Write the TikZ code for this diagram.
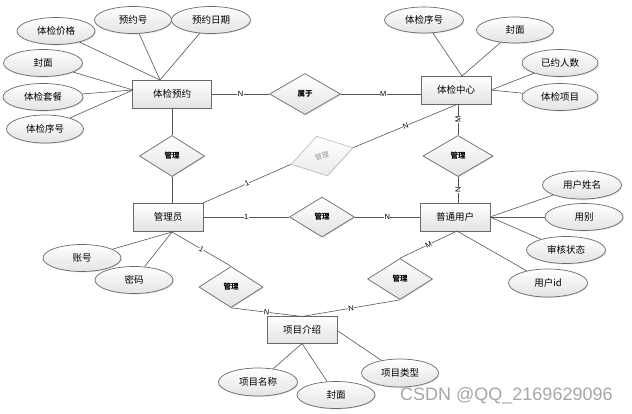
\documentclass[tikz,border=0pt]{standalone}
\usepackage{fontspec}
\setmainfont{Liberation Sans}
\newfontfamily\cjk{Noto Sans CJK SC}
\newfontfamily\wmfont{Liberation Sans}
\usetikzlibrary{shapes.geometric,shadows}
\definecolor{edgec}{HTML}{555555}
\definecolor{borderc}{HTML}{6A6A6A}
\tikzset{
  base/.style={draw=borderc, line width=0.7pt, top color=white, bottom color=gray!22,
    drop shadow={shadow xshift=0.9pt, shadow yshift=-0.9pt, opacity=0.25}, inner sep=0pt,
    font=\cjk\fontsize{9.5}{10}\selectfont},
  attr/.style={base, ellipse, minimum width=78pt, minimum height=27pt},
  ent/.style={base, rectangle, minimum width=70pt, minimum height=28pt},
  rel/.style={base, diamond, minimum width=65pt, minimum height=41pt, aspect=1.6,
    font=\cjk\bfseries\fontsize{7.5}{8}\selectfont},
  faded/.style={draw=gray!55, line width=0.6pt, top color=white, bottom color=gray!16,
    diamond, minimum width=64pt, minimum height=41pt, aspect=1.6, inner sep=0pt,
    drop shadow={shadow xshift=0.9pt, shadow yshift=-0.9pt, opacity=0.15},
    text=gray!80, font=\cjk\fontsize{7}{8}\selectfont},
  link/.style={draw=edgec, line width=0.6pt},
  card/.style={fill=white, inner sep=0.3pt, font=\fontsize{7.5}{8}\selectfont, text=black},
}
\begin{document}
\begin{tikzpicture}[x=1pt,y=-1pt]
\useasboundingbox (0,0) rectangle (632,413);
% entities
\node[ent, minimum width=79pt] (yy) at (172,94) {体检预约};
\node[ent] (zx) at (456,90) {体检中心};
\node[ent] (gly) at (168,217) {管理员};
\node[ent] (pt) at (455,217) {普通用户};
\node[ent, minimum height=27pt] (xmjs) at (302,330) {项目介绍};
% relations
\node[rel, minimum width=71pt] (sy) at (305,94) {属于};
\node[rel] (gl1) at (172,156) {管理};
\node[faded, rotate=15] (gl2) at (322,156) {管理};
\node[rel, minimum width=70pt] (gl3) at (458,156) {管理};
\node[rel, minimum height=40pt] (gl4) at (322,217) {管理};
\node[rel, minimum width=64pt] (gl5) at (231,287) {管理};
\node[rel] (gl6) at (400,279) {管理};
% attributes of 体检预约
\node[attr] (a1) at (56,31) {体检价格};
\node[attr, minimum width=77pt] (a2) at (133,20) {预约号};
\node[attr, minimum width=79pt] (a3) at (211,20) {预约日期};
\node[attr, minimum width=79pt] (a4) at (43,63) {封面};
\node[attr, minimum width=80pt] (a5) at (43,97) {体检套餐};
\node[attr, minimum width=77pt, minimum height=28pt] (a6) at (45,129) {体检序号};
% attributes of 体检中心
\node[attr, minimum width=79pt, minimum height=26pt] (b1) at (424,20) {体检序号};
\node[attr, minimum width=77pt, minimum height=26pt] (b2) at (515,30) {封面};
\node[attr, minimum width=76pt] (b3) at (560,63) {已约人数};
\node[attr, minimum width=76pt] (b4) at (560,97) {体检项目};
% attributes of 普通用户
\node[attr, minimum width=79pt, minimum height=28pt] (c1) at (582,185) {用户姓名};
\node[attr] (c2) at (584,217) {用别};
\node[attr, minimum width=79pt] (c3) at (566,250) {审核状态};
\node[attr, minimum width=79pt, minimum height=28pt] (c4) at (548,283) {用户id};
% attributes of 管理员
\node[attr] (d1) at (82,258) {账号};
\node[attr] (d2) at (134,280) {密码};
% attributes of 项目介绍
\node[attr, minimum width=79pt, minimum height=28pt] (f1) at (258,382) {项目名称};
\node[attr] (f2) at (336,395) {封面};
\node[attr, minimum width=77pt, minimum height=28pt] (f3) at (400,373) {项目类型};
% junction points
\coordinate (yyT) at (160,80);
\coordinate (yyL) at (133,90);
\coordinate (zxT) at (462,76);
\coordinate (zxR) at (491,90);
\coordinate (zxB) at (458,104);
\coordinate (ptR) at (490,217);
\coordinate (ptB) at (457,231);
\coordinate (ptT) at (458,203);
\coordinate (glyB) at (172,232);
\coordinate (glyT) at (172,202.5);
\coordinate (glyTR) at (203,203);
\coordinate (xmT) at (302,316.5);
\coordinate (xmB) at (302,343.5);
\coordinate (xmR) at (338,331);
\coordinate (yyB) at (172,108);
% attribute links
\draw[link] (a1) -- (yyT);
\draw[link] (a2) -- (yyT);
\draw[link] (a3) -- (yyT);
\draw[link] (a4) -- (yyL);
\draw[link] (a5) -- (yyL);
\draw[link] (a6) -- (yyL);
\draw[link] (b1) -- (zxT);
\draw[link] (b2) -- (zxT);
\draw[link] (b3) -- (zxR);
\draw[link] (b4) -- (zxR);
\draw[link] (c1) -- (ptR);
\draw[link] (c2) -- (ptR);
\draw[link] (c3) -- (ptR);
\draw[link] (c4) -- (ptB);
\draw[link] (d1) -- (glyB);
\draw[link] (d2) -- (glyB);
\draw[link] (f1) -- (xmB);
\draw[link] (f2) -- (xmB);
\draw[link] (f3) -- (xmR);
% relationship links
\draw[link] (yy.east |- sy.west) -- node[card, pos=0.5] {N} (sy.west);
\draw[link] (sy.east) -- node[card, pos=0.53] {M} (zx.west |- sy.east);
\draw[link] (yyB) -- (gl1.north);
\draw[link] (gl1.south) -- (glyT);
\draw[link] (glyTR) -- node[card, sloped, pos=0.5] {1} (gl2.west);
\draw[link] (gl2.east) -- node[card, sloped, pos=0.5] {N} (zxB);
\draw[link] (zxB) -- node[card, rotate=90, pos=0.5] {M} (gl3.north);
\draw[link] (gl3.south) -- node[card, rotate=90, pos=0.5] {N} (ptT);
\draw[link] (gly.east) -- node[card, pos=0.5] {1} (gl4.west);
\draw[link] (gl4.east) -- node[card, pos=0.5] {N} (pt.west);
\draw[link] (glyB) -- node[card, sloped, pos=0.5] {1} (gl5.north);
\draw[link] (gl5.south) -- node[card, sloped, pos=0.5] {N} (xmT);
\draw[link] (ptB) -- node[card, sloped, pos=0.5] {M} (gl6.north);
\draw[link] (gl6.south) -- node[card, sloped, pos=0.5] {N} (xmT);
% watermark
\node[anchor=base west, inner sep=0pt, text=gray!70, font=\wmfont\fontsize{18}{18}\selectfont] (wm) at (400,400) {CSDN @QQ\_2169629096};
\end{tikzpicture}
\end{document}
